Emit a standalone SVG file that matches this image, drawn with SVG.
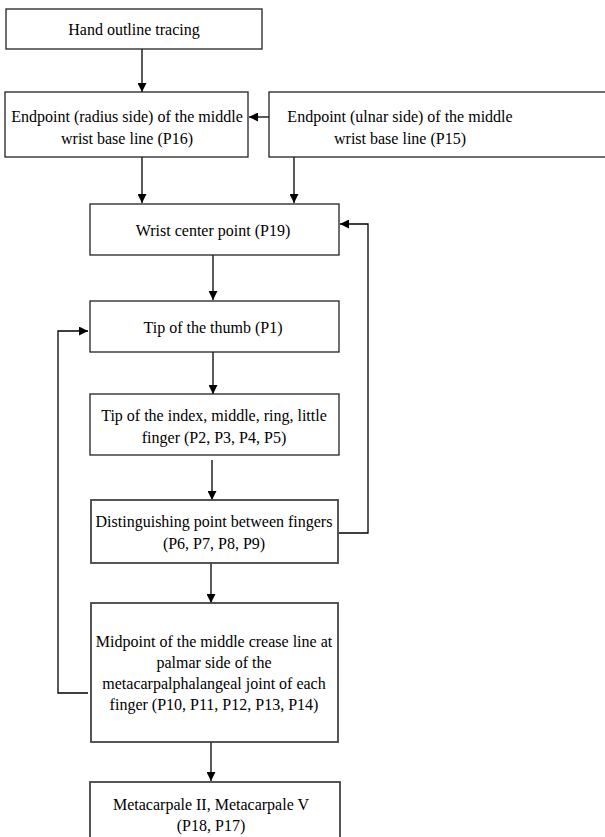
<svg xmlns="http://www.w3.org/2000/svg" width="605" height="837" viewBox="0 0 605 837">
<style>
.box{fill:#fff;stroke:#222;stroke-width:1.3}
.box2{fill:#fff;stroke:#444;stroke-width:1.8}
.t{font-family:"Liberation Serif","Times New Roman",serif;font-size:16px;fill:#000;text-anchor:middle}
.c{fill:none;stroke:#000;stroke-width:1.3}
</style>
<defs>
<marker id="ah" viewBox="0 0 10 10" refX="10" refY="5" markerWidth="9" markerHeight="9" markerUnits="userSpaceOnUse" orient="auto">
<path d="M0,0 L10,5 L0,10 z" fill="#000"/>
</marker>
</defs>
<rect width="605" height="837" fill="#fff"/>
<g id="connectors">
<line class="c" x1="142" y1="49" x2="142" y2="92" marker-end="url(#ah)"/>
<line class="c" x1="269" y1="117" x2="249" y2="117" marker-end="url(#ah)"/>
<line class="c" x1="142" y1="157" x2="142" y2="203" marker-end="url(#ah)"/>
<line class="c" x1="294" y1="157" x2="294" y2="203" marker-end="url(#ah)"/>
<line class="c" x1="213" y1="255" x2="213" y2="300" marker-end="url(#ah)"/>
<line class="c" x1="213" y1="352" x2="213" y2="394" marker-end="url(#ah)"/>
<line class="c" x1="212" y1="460" x2="212" y2="500" marker-end="url(#ah)"/>
<line class="c" x1="211" y1="563" x2="211" y2="603" marker-end="url(#ah)"/>
<line class="c" x1="211" y1="742" x2="211" y2="781" marker-end="url(#ah)"/>
<polyline class="c" points="339,533 368,533 368,224 340,224" marker-end="url(#ah)"/>
<polyline class="c" points="88,693 58,693 58,331 88,331" marker-end="url(#ah)"/>
</g>
<g id="n1"><rect class="box" x="6" y="9" width="256" height="40"/><text class="t" x="134" y="35">Hand outline tracing</text></g>
<g id="n2"><rect class="box" x="5" y="92" width="243" height="65"/><text class="t" x="127" y="122">Endpoint (radius side) of the middle</text><text class="t" x="127" y="144">wrist base line (P16)</text></g>
<g id="n3"><rect class="box" x="269" y="92" width="340" height="65"/><text class="t" x="400" y="122">Endpoint (ulnar side) of the middle</text><text class="t" x="400" y="144">wrist base line (P15)</text></g>
<g id="n4"><rect class="box" x="90" y="204" width="249" height="51"/><text class="t" x="213" y="236">Wrist center point (P19)</text></g>
<g id="n5"><rect class="box" x="90" y="301" width="249" height="51"/><text class="t" x="213" y="333">Tip of the thumb (P1)</text></g>
<g id="n6"><rect class="box" x="90" y="394" width="249" height="61"/><text class="t" x="214" y="421">Tip of the index, middle, ring, little</text><text class="t" x="214" y="443">finger (P2, P3, P4, P5)</text></g>
<g id="n7"><rect class="box2" x="91" y="500" width="247" height="63"/><text class="t" x="214" y="527">Distinguishing point between fingers</text><text class="t" x="214" y="549">(P6, P7, P8, P9)</text></g>
<g id="n8"><rect class="box2" x="91" y="603" width="247" height="139"/><text class="t" x="214" y="647">Midpoint of the middle crease line at</text><text class="t" x="214" y="668">palmar side of the</text><text class="t" x="214" y="689">metacarpalphalangeal joint of each</text><text class="t" x="214" y="710">finger (P10, P11, P12, P13, P14)</text></g>
<g id="n9"><rect class="box2" x="90" y="782" width="250" height="70"/><text class="t" x="211" y="810">Metacarpale II, Metacarpale V</text><text class="t" x="211" y="831">(P18, P17)</text></g>
</svg>
